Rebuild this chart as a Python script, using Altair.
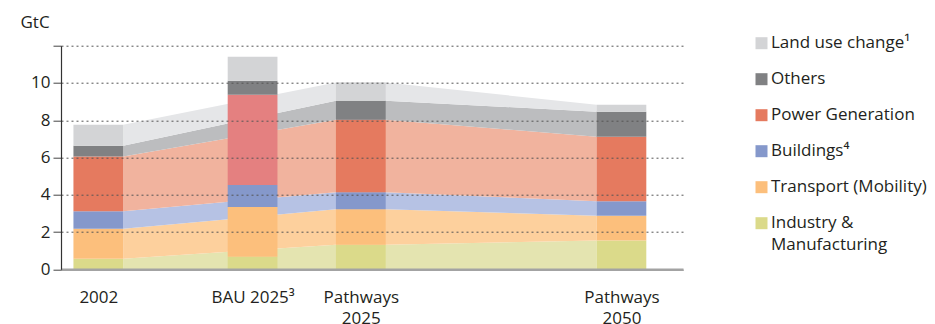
import json
import altair as alt
import pandas as pd

# Scenarios (x categories) and emission sectors (top of stack first)
scenarios = ["2002", "BAU 2025³", "Pathways 2025", "Pathways 2050"]
sectors = [
    "Land use change¹",
    "Others",
    "Power Generation",
    "Buildings⁴",
    "Transport (Mobility)",
    "Industry & Manufacturing",
]

# Emissions per sector, GtC, one value per scenario
land_use = [1.13, 1.29, 0.98, 0.37]
others = [0.58, 0.75, 1.02, 1.35]
power = [2.93, 4.84, 3.89, 3.46]
buildings = [0.95, 1.18, 0.92, 0.77]
transport = [1.60, 2.67, 1.90, 1.34]
industry = [0.57, 0.68, 1.32, 1.54]

values_by_sector = {
    sectors[0]: land_use,
    sectors[1]: others,
    sectors[2]: power,
    sectors[3]: buildings,
    sectors[4]: transport,
    sectors[5]: industry,
}

# Colours: solid bar fills and the paler fills of the connecting bands
bar_colors = ["#d3d4d6", "#808183", "#e57a5f", "#8598cb", "#fcbf7c", "#dbda8a"]
band_colors = ["#e5e6e8", "#bcbdbf", "#f1b39e", "#b6c2e4", "#fdd09d", "#e4e4b0"]
bau_power_color = "#e48080"
text_color = "#231f20"
FONT = "Open Sans"
FONT_SIZE = 17

# Horizontal layout of the scenario columns on a 0..10 axis
slot_center = [0.6, 3.08, 4.82, 9.01]
bar_half = 0.4
x_scale = alt.Scale(domain=[0, 10], nice=False, zero=False)
y_scale = alt.Scale(domain=[0, 12], nice=False)

# Stack from the bottom (industry) upwards
stack_order = list(reversed(sectors))


def stacked(i):
    base = 0.0
    out = []
    for s in stack_order:
        v = values_by_sector[s][i]
        out.append((s, base, base + v))
        base += v
    return out


bar_rows = []
for i, scen in enumerate(scenarios):
    for s, lo, hi in stacked(i):
        bar_rows.append(
            dict(
                scenario=scen,
                sector=s,
                x=slot_center[i] - bar_half,
                x2=slot_center[i] + bar_half,
                y=lo,
                y2=hi,
            )
        )
bars_df = pd.DataFrame(bar_rows)

# Bands joining the pathway columns (2002 -> Pathways 2025 -> Pathways 2050)
band_points = [
    (0, slot_center[0] + bar_half),
    (2, slot_center[2] - bar_half),
    (2, slot_center[2] + bar_half),
    (3, slot_center[3] - bar_half),
]
band_rows = []
for i, xpos in band_points:
    for s, lo, hi in stacked(i):
        band_rows.append(dict(sector=s, x=xpos, y=lo, y2=hi))
bands_df = pd.DataFrame(band_rows)

# Axis label text (multi-line where needed), chosen by tick position
tick_text = [["2002"], ["BAU 2025³"], ["Pathways", "2025"], ["Pathways", "2050"]]
x_label_expr = json.dumps(tick_text[-1], ensure_ascii=False)
for k in range(len(slot_center) - 2, -1, -1):
    cut = (slot_center[k] + slot_center[k + 1]) / 2
    x_label_expr = (
        f"datum.value < {cut} ? {json.dumps(tick_text[k], ensure_ascii=False)} : ({x_label_expr})"
    )

x_axis = alt.Axis(
    values=slot_center,
    labelExpr=x_label_expr,
    title=None,
    grid=False,
    ticks=False,
    domain=True,
    domainColor="#a3a3a3",
    domainWidth=2.5,
    labelPadding=20,
    labelFontSize=FONT_SIZE,
    labelLineHeight=21,
    labelColor=text_color,
    labelFlush=False,
    labelOverlap=False,
    labelBound=False,
    zindex=1,
)

y_axis = alt.Axis(
    values=[0, 2, 4, 6, 8, 10, 12],
    labelExpr="datum.value == 12 ? '' : datum.label",
    grid=True,
    gridColor="#555555",
    gridDash=[2, 3],
    gridWidth=1,
    tickSize=8,
    tickColor="#444444",
    domainColor="#333333",
    domainWidth=1.2,
    labelFontSize=FONT_SIZE,
    labelPadding=3,
    labelColor=text_color,
    title="GtC",
    titleAngle=0,
    titleAlign="left",
    titleBaseline="alphabetic",
    titleX=-41,
    titleY=-18,
    titleFontSize=FONT_SIZE,
    titleFontWeight="normal",
    titleColor=text_color,
    zindex=1,
)

bands = (
    alt.Chart(bands_df)
    .mark_area(interpolate="linear")
    .encode(
        x=alt.X("x:Q", scale=x_scale, axis=x_axis),
        y=alt.Y("y:Q", scale=y_scale, axis=y_axis),
        y2="y2:Q",
        color=alt.Color(
            "sector:N",
            scale=alt.Scale(domain=sectors, range=band_colors),
            legend=None,
        ),
    )
)

legend = alt.Legend(
    title=None,
    orient="none",
    legendX=692,
    legendY=-11,
    direction="vertical",
    symbolType="square",
    symbolSize=144,
    symbolStrokeWidth=0,
    symbolOpacity=1,
    labelFontSize=FONT_SIZE,
    labelColor=text_color,
    labelOffset=1,
    labelLimit=0,
    rowPadding=18,
    padding=0,
    labelExpr="datum.label == 'Industry & Manufacturing' ? ['Industry &', 'Manufacturing'] : datum.label",
)

bars = (
    alt.Chart(bars_df)
    .mark_rect()
    .encode(
        x=alt.X("x:Q", scale=x_scale, axis=x_axis),
        x2="x2:Q",
        y=alt.Y("y:Q", scale=y_scale, axis=y_axis),
        y2="y2:Q",
        color=alt.condition(
            (alt.datum.scenario == scenarios[1]) & (alt.datum.sector == sectors[2]),
            alt.value(bau_power_color),
            alt.Color(
                "sector:N",
                scale=alt.Scale(domain=sectors, range=bar_colors),
                legend=legend,
            ),
        ),
    )
)

chart = (
    alt.layer(bands, bars)
    .resolve_scale(color="independent")
    .properties(
        width=622,
        height=223.6,
        autosize=alt.AutoSizeParams(type="none"),
        padding={"left": 61, "top": 45.7, "right": 252, "bottom": 54.7},
    )
    .configure(font=FONT, style={"guide-label": {"lineHeight": 22}})
    .configure_view(stroke=None)
)

chart.save("out.html", embed_options={"renderer": "svg", "actions": False})
